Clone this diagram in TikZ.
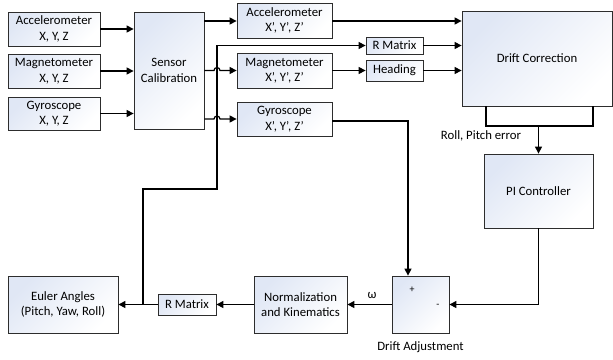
\documentclass[tikz,border=0pt]{standalone}
\usepackage{fontspec}
\setmainfont{Carlito}
\usetikzlibrary{arrows.meta}
\definecolor{boxblue}{RGB}{224,231,245}
\definecolor{edgegray}{RGB}{45,45,45}
\tikzset{
  blk/.style={draw=edgegray, line width=0.8bp, top color=boxblue, bottom color=white, shading angle=45,
              align=center, inner sep=0pt, font=\fontsize{12.8}{15.5}\selectfont},
  wire/.style={line width=1.2bp, draw=black},
  arr/.style={wire, -{Triangle[length=7bp,width=7bp]}},
  lbl/.style={inner sep=0pt, font=\fontsize{12.8}{15.5}\selectfont},
  sgn/.style={inner sep=0pt, font=\fontsize{10}{12}\selectfont}
}
\newcommand{\bx}[6]{\node[blk, minimum width={(#4-#2)*1bp}, minimum height={(#5-#3)*1bp}] (#1) at ({(#2+#4)/2},{(#3+#5)/2}) {#6};}
\begin{document}
\begin{tikzpicture}[x=1bp, y=-1bp]
\useasboundingbox (0,0) rectangle (613,359);
% boxes
\bx{accIn}{8}{12}{100}{46}{Accelerometer\\X, Y, Z}
\bx{magIn}{8}{54}{100}{88}{Magnetometer\\X, Y, Z}
\bx{gyrIn}{8}{97}{100}{130}{Gyroscope\\X, Y, Z}
\bx{calib}{134}{12}{204}{129}{Sensor\\Calibration}
\bx{accOut}{237}{3}{332}{38}{Accelerometer\\X’, Y’, Z’}
\bx{magOut}{237}{53}{332}{88}{Magnetometer\\X’, Y’, Z’}
\bx{gyrOut}{237}{102}{332}{136}{Gyroscope\\X’, Y’, Z’}
\bx{rmA}{366}{37}{423}{54}{R Matrix}
\bx{head}{366}{60}{423}{81}{Heading}
\bx{drift}{462}{11}{612}{106}{Drift Correction}
\bx{pi}{484}{154}{593}{228}{PI Controller}
\bx{adj}{392}{276}{449}{333}{}
\bx{norm}{254}{276}{347}{333}{Normalization\\and Kinematics}
\bx{rmB}{158}{294}{216}{315}{R Matrix}
\bx{euler}{8}{276}{118}{333}{Euler Angles\\(Pitch, Yaw, Roll)}
% labels
\node[sgn] (plus) at (412,290) {+};
\node[sgn] (minus) at (438,306) {-};
\node[lbl] (omega) at (372,295) {ω};
\node[lbl] (adjlbl) at (420.5,347) {Drift Adjustment};
\node[lbl] (rpe) at (481,136) {Roll, Pitch error};
% coordinates
\coordinate (jn) at (143,304.5);
\coordinate (c1) at (143,189);
\coordinate (c2) at (217,189);
\coordinate (c3) at (217,45.5);
\coordinate (bl) at (486,126);
\coordinate (br) at (593,126);
\coordinate (bm) at (538.5,126);
% inputs
\draw[arr] (accIn.east) -- (calib.west |- accIn.east);
\draw[arr] (magIn.east) -- (calib.west |- magIn.east);
\draw[arr] (gyrIn.east) -- (calib.west |- gyrIn.east);
% calibration outputs
\draw[arr] (calib.east |- 0,21) -- (accOut.west |- 0,21);
\draw[arr] (calib.east |- magOut.west) -- (214,70.5) arc[start angle=180, end angle=360, radius=3] -- (magOut.west);
\draw[arr] (calib.east |- 0,119) -- (214,119) arc[start angle=180, end angle=360, radius=3] -- (gyrOut.west);
% to drift correction
\draw[arr] (accOut.east |- 0,21) -- (drift.west |- 0,21);
\draw[arr] (rmA.east) -- (drift.west |- rmA.east);
\draw[arr] (magOut.east) -- (head.west |- magOut.east);
\draw[arr] (head.east) -- (drift.west |- head.east);
% drift correction to PI
\draw[wire] (drift.south west -| bl) -- (bl) -- (br) -- (drift.south west -| br);
\draw[arr] (bm) -- (bm |- pi.north);
\draw[arr] (pi.south) |- (adj.east);
% gyro to adjustment
\draw[arr] ([yshift=-2bp]gyrOut.east) -| ([xshift=-12.5bp]adj.north);
% bottom chain
\draw[arr] (adj.west) -- (norm.east);
\draw[arr] (norm.west) -- (rmB.east);
\draw[arr] (rmB.west) -- (euler.east);
% feedback
\draw[arr] (jn) -- (c1) -- (c2) -- (c3) -- (rmA.west);
\end{tikzpicture}
\end{document}
